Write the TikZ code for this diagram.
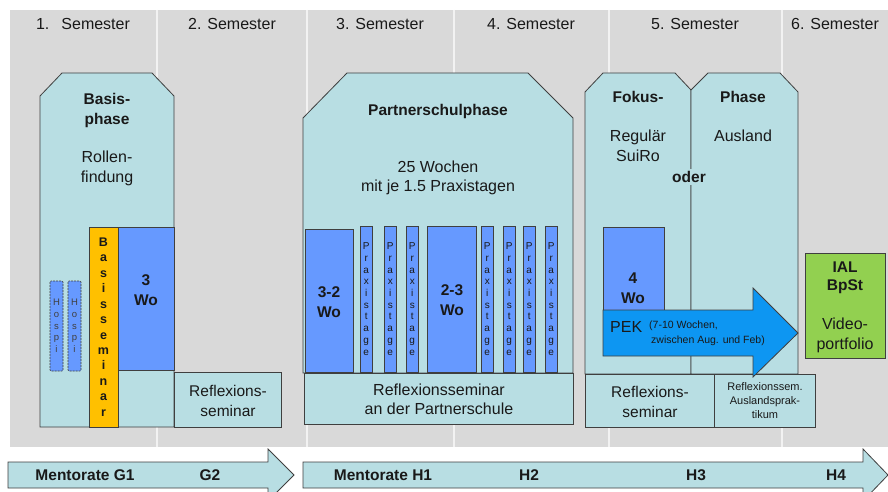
\documentclass[tikz,border=0pt]{standalone}
\usepackage{fontspec}
\setmainfont{Liberation Sans}
\definecolor{bggray}{HTML}{D9D9D9}
\definecolor{phasecol}{HTML}{B8DEE3}
\definecolor{wocol}{HTML}{6699FF}
\definecolor{semcol}{HTML}{FFC000}
\definecolor{pekcol}{HTML}{0D96F2}
\definecolor{ialcol}{HTML}{92D050}
\definecolor{edge}{HTML}{3F3F3F}

\begin{document}
\begin{tikzpicture}
[x=1pt,y=-1pt%
,every node/.style={inner sep=0pt,%
	text=black!90}%
,box/.style={draw=edge,%
	line width=0.8pt}%
,phase/.style={box,%
	fill=phasecol}%
,wo/.style={box,%
	fill=wocol}%
,semlabel/.style={font=\fontsize{16}{19}\selectfont}%
,boldtext/.style={font=\bfseries\fontsize{15.5}{20}\selectfont,%
	align=center}%
,normtext/.style={font=\fontsize{16}{20}\selectfont,%
	align=center}%
,vletters/.style={font=\fontsize{10}{11.7}\selectfont,%
	align=center}]
\clip (0,0) rectangle (888,492);
\fill[white] (0,0) rectangle (888,492);
% semester columns
\fill[bggray] (10,10) rectangle (888,447);
\foreach \x in {157,307,454,609,782}
	\draw[white!95!black, line width=1.2pt] (\x,10) -- (\x,447);
\node[semlabel] (sem1) at (83,24) {1.\hspace{12pt}Semester};
\node[semlabel] (sem2) at (232,24) {2. Semester};
\node[semlabel] (sem3) at (380,24) {3. Semester};
\node[semlabel] (sem4) at (531,24) {4. Semester};
\node[semlabel] (sem5) at (695,24) {5. Semester};
\node[semlabel] (sem6) at (835,24) {6. Semester};

% Basisphase
\draw[phase] (40,427) -- (40,96) -- (62,73) -- (152,73) -- (174,96) -- (174,427) -- cycle;
\node[boldtext] (basis) at (107,110) {Basis-\\phase};
\node[normtext] (rollen) at (107,168) {Rollen-\\findung};
\foreach \x [count=\i] in {50,68}
	\draw[wo, dashed, dash pattern=on 2pt off 1pt, rounded corners=1pt, line width=0.6pt]
	(\x,281) rectangle (\x+13,371)
	node[vletters, font=\fontsize{9.5}{11.7}\selectfont, text=black!75, midway] (hospi\i) {H\\o\\s\\p\\i};
\draw[box, fill=semcol] (89,227) rectangle (118,427)
	node[vletters, font=\bfseries\fontsize{12.5}{15.45}\selectfont, midway] (bsem) {B\\a\\s\\i\\s\\s\\e\\m\\i\\n\\a\\r};
\draw[wo] (118,227) rectangle (174,370);
\node[boldtext] (wo3) at (146,290) {3\\Wo};
\draw[phase] (174,372) rectangle (281,427);
\node[normtext, font=\fontsize{15.5}{20}\selectfont] (refl1) at (228,401) {Reflexions-\\seminar};

% Partnerschulphase
\draw[phase] (303,373) -- (303,118) -- (347,73) -- (528,73) -- (573,118) -- (573,373) -- cycle;
\node[boldtext] (partner) at (438,111) {Partnerschulphase};
\node[normtext, font=\fontsize{16}{19}\selectfont] (wochen) at (438,178) {25 Wochen\\mit je 1.5 Praxistagen};
\draw[wo] (305,229) rectangle (353,372);
\node[boldtext] (wo32) at (329,302) {3-2\\Wo};
\draw[wo] (427,226) rectangle (476,372);
\node[boldtext] (wo23) at (452,300) {2-3\\Wo};
\foreach \x [count=\i] in {360,384,406,481,503,523,545}
	\draw[wo] (\x,226) rectangle (\x+12.5,372)
	node[vletters, midway] (praxis\i) {P\\r\\a\\x\\i\\s\\t\\a\\g\\e};
\draw[phase] (304,373) rectangle (573,424);
\node[normtext, font=\fontsize{16}{19}\selectfont] (refl2) at (439,399) {Reflexionsseminar\\an der Partnerschule};

% Fokusphase
\draw[phase] (585,374) -- (585,92) -- (603,73) -- (675,73) -- (691,90) -- (691,374) -- cycle;
\draw[phase] (691,374) -- (691,90) -- (708,73) -- (780,73) -- (798,92) -- (798,374) -- cycle;
\node[boldtext] (fokus) at (638,97) {Fokus-};
\node[boldtext] (phase) at (743,97) {Phase};
\node[normtext] (regulaer) at (638,146) {Regulär\\SuiRo};
\node[normtext] (ausland) at (743,136) {Ausland};
\node[boldtext, fill=phasecol, inner sep=2pt] (oder) at (689,177) {oder};
\draw[wo] (603,227) rectangle (664,310);
\node[boldtext] (wo4) at (633,288) {4\\Wo};
\draw[phase] (585,374) rectangle (714,427);
\node[normtext, font=\fontsize{15.5}{20}\selectfont] (refl3) at (650,402) {Reflexions-\\seminar};
\draw[phase] (714,374) rectangle (815,427);
\node[normtext, font=\fontsize{11}{14}\selectfont] (refl4) at (765,401) {Reflexionssem.\\Auslandsprak-\\tikum};
\draw[box, fill=pekcol] (603,310) -- (753,310) -- (753,288) -- (798,333) -- (753,377) -- (753,356) -- (603,356) -- cycle;
\node[normtext, anchor=west] (pek) at (610,327) {PEK};
\node[font=\fontsize{10.5}{14.5}\selectfont, align=left, anchor=north west] (pekzeit) at (649,321) {(7-10 Wochen,\\\hspace{2pt}zwischen Aug. und Feb)};

% IAL
\draw[box, fill=ialcol] (805,253) rectangle (885,358);
\node[boldtext, font=\bfseries\fontsize{15.5}{18}\selectfont] (ial) at (845,278) {IAL\\BpSt};
\node[normtext] (video) at (845,335) {Video-\\portfolio};

% Mentorate
\draw[phase] (8,462) -- (268,462) -- (268,449) -- (294,475) -- (268,501) -- (268,488) -- (8,488) -- cycle;
\draw[phase] (303,462) -- (863,462) -- (863,449) -- (888,475) -- (863,501) -- (863,488) -- (303,488) -- cycle;
\node[boldtext] (mg1) at (85,475) {Mentorate G1};
\node[boldtext] (mg2) at (210,475) {G2};
\node[boldtext] (mh1) at (383,475) {Mentorate H1};
\node[boldtext] (mh2) at (529,475) {H2};
\node[boldtext] (mh3) at (696,475) {H3};
\node[boldtext] (mh4) at (836,475) {H4};
\end{tikzpicture}
\end{document}
